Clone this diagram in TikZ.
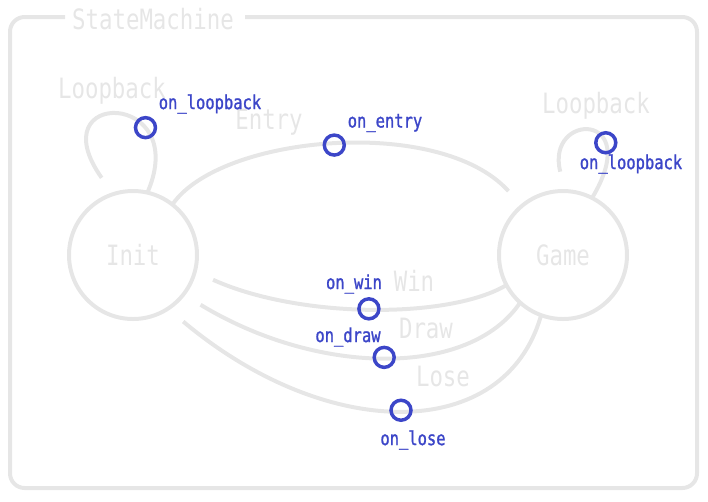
\documentclass[tikz,border=0pt]{standalone}
\usepackage{fontspec}
\newfontfamily\smfont[FakeStretch=0.8]{DejaVu Sans Mono}
\newfontfamily\evfont[FakeStretch=0.8, FakeBold=1.2]{DejaVu Sans Mono}
\definecolor{smgray}{HTML}{E6E6E6}
\definecolor{smblue}{HTML}{3C46C8}
\tikzset{
    state/.style={circle, draw=smgray, line width=3pt, minimum size=96pt,
        inner sep=0pt, outer sep=0pt, text=smgray,
        font=\smfont\fontsize{21}{21}\selectfont},
    trans/.style={draw=smgray, line width=3pt, shorten >=15pt},
    port/.style={circle, draw=smblue, line width=2.6pt, minimum size=15pt,
        inner sep=0pt},
    trname/.style={text=smgray, inner sep=0pt,
        font=\smfont\fontsize{21}{21}\selectfont},
    evname/.style={text=smblue, inner sep=0pt,
        font=\evfont\fontsize{14.5}{14.5}\selectfont}
}
\begin{document}
\begin{tikzpicture}[x=0.75pt, y=-0.75pt]
        \useasboundingbox (0,0) rectangle (708,501);
        % frame with title
        \draw[smgray, line width=3pt, rounded corners=11pt]
            (65,17) -- (10,17) -- (10,488) -- (697,488) -- (697,17) -- (245,17);
        \node[trname] (title) at (153,19) {StateMachine};
        % states
        \node[state] (init) at (133,255) {Init};
        \node[state] (game) at (563,255) {Game};
        % transitions
        \draw[trans] (init.77) .. controls (192,90) and (38,88) .. (init.108)
            node [port, pos=0.3] (ploopi) {};
        \draw[trans] (init.52) .. controls (220,135) and (440,115) .. (game.130)
            node [port, pos=0.5] (pentry) {};
        \draw[trans] (game.63) .. controls (645,110) and (545,112) .. (game.88)
            node [port, pos=0.3] (ploopg) {};
        \draw[trans] (game.208) .. controls (450,319) and (300,319) .. (init.-15)
            node [port, pos=0.5] (pwin) {};
        \draw[trans] (game.228) .. controls (470,377) and (320,377) .. (init.-38)
            node [port, pos=0.5] (pdraw) {};
        \draw[trans] (game.250) .. controls (505,443) and (328,443) .. (init.-57)
            node [port, pos=0.5] (plose) {};
        % transition names
        \node[trname] at (112,91) {Loopback};
        \node[trname] at (269,122) {Entry};
        \node[trname] at (596,106) {Loopback};
        \node[trname] at (414,281) {Win};
        \node[trname] at (426,328) {Draw};
        \node[trname] at (443,376) {Lose};
        % event names
        \node[evname] at (210,104) {on\_loopback};
        \node[evname] at (385,123) {on\_entry};
        \node[evname] at (631,164) {on\_loopback};
        \node[evname] at (354,284) {on\_win};
        \node[evname] at (348,337) {on\_draw};
        \node[evname] at (413,440) {on\_lose};
    \end{tikzpicture}
\end{document}
